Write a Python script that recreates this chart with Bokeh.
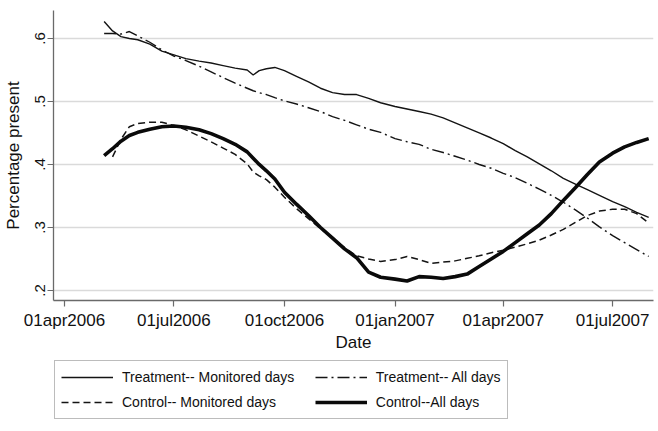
import numpy as np
import pandas as pd
from bokeh.plotting import figure
from bokeh.layouts import column
from bokeh.models import Range1d, FixedTicker, Legend, LegendItem, ColumnDataSource
from bokeh.embed import file_html
from bokeh.resources import INLINE

dates = ["2006-05-04", "2006-05-11", "2006-05-18", "2006-05-25", "2006-06-01", "2006-06-11",
         "2006-06-21", "2006-07-01", "2006-07-11", "2006-07-22", "2006-08-01", "2006-08-11",
         "2006-08-21", "2006-08-31", "2006-09-05", "2006-09-10", "2006-09-16", "2006-09-23",
         "2006-10-01", "2006-10-11", "2006-10-21", "2006-10-31", "2006-11-10", "2006-11-20",
         "2006-11-30", "2006-12-10", "2006-12-20", "2007-01-01", "2007-01-11", "2007-01-21",
         "2007-01-31", "2007-02-10", "2007-02-20", "2007-03-02", "2007-03-12", "2007-03-22",
         "2007-04-01", "2007-04-11", "2007-04-21", "2007-05-01", "2007-05-11", "2007-05-21",
         "2007-05-31", "2007-06-10", "2007-06-20", "2007-07-01", "2007-07-11", "2007-07-21",
         "2007-07-31"]

treatment_monitored = [0.627, 0.612, 0.603, 0.600, 0.598, 0.591, 0.580, 0.574, 0.568, 0.564,
                       0.561, 0.557, 0.553, 0.550, 0.542, 0.549, 0.552, 0.554, 0.549, 0.540,
                       0.531, 0.521, 0.514, 0.511, 0.511, 0.505, 0.498, 0.492, 0.488, 0.484,
                       0.480, 0.474, 0.466, 0.458, 0.450, 0.442, 0.433, 0.422, 0.412, 0.401,
                       0.390, 0.378, 0.369, 0.360, 0.351, 0.341, 0.333, 0.324, 0.316]

treatment_all = [0.608, 0.608, 0.607, 0.611, 0.604, 0.594, 0.582, 0.572, 0.565, 0.556,
                 0.547, 0.538, 0.529, 0.521, 0.517, 0.514, 0.511, 0.506, 0.501, 0.496,
                 0.490, 0.484, 0.476, 0.470, 0.463, 0.456, 0.451, 0.441, 0.436, 0.432,
                 0.424, 0.419, 0.413, 0.407, 0.400, 0.394, 0.386, 0.379, 0.370, 0.361,
                 0.351, 0.340, 0.328, 0.315, 0.301, 0.287, 0.276, 0.265, 0.254]

control_monitored = [np.nan, 0.412, 0.440, 0.460, 0.465, 0.467, 0.467, 0.462, 0.455, 0.445,
                     0.436, 0.426, 0.416, 0.401, 0.388, 0.382, 0.376, 0.364, 0.348, 0.330,
                     0.314, 0.298, 0.283, 0.268, 0.255, 0.250, 0.246, 0.249, 0.254, 0.249,
                     0.243, 0.245, 0.247, 0.251, 0.255, 0.260, 0.264, 0.269, 0.274, 0.280,
                     0.288, 0.297, 0.308, 0.319, 0.326, 0.329, 0.329, 0.322, 0.307]

control_all = [0.414, 0.425, 0.437, 0.446, 0.451, 0.456, 0.460, 0.461, 0.459, 0.455,
               0.449, 0.441, 0.432, 0.420, 0.410, 0.400, 0.390, 0.377, 0.356, 0.337,
               0.319, 0.300, 0.283, 0.266, 0.252, 0.229, 0.221, 0.218, 0.215, 0.222,
               0.221, 0.219, 0.222, 0.226, 0.238, 0.250, 0.262, 0.276, 0.290, 0.304,
               0.322, 0.343, 0.363, 0.384, 0.404, 0.418, 0.428, 0.435, 0.441]

series_labels = ["Treatment-- Monitored days", "Treatment-- All days",
                 "Control-- Monitored days", "Control--All days"]

x_tick_dates = ["2006-04-01", "2006-07-01", "2006-10-01", "2007-01-01", "2007-04-01", "2007-07-01"]
x_tick_labels = ["01apr2006", "01jul2006", "01oct2006", "01jan2007", "01apr2007", "01jul2007"]
y_ticks = [0.2, 0.3, 0.4, 0.5, 0.6]
y_tick_labels = [".2", ".3", ".4", ".5", ".6"]

FONT = "Liberation Sans"
TXT = "#111111"
AX = "#6a6a6a"

STYLES = [
    dict(line_color="#141414", line_width=1.4),
    dict(line_color="#141414", line_width=1.4, line_dash="12 4 2 4"),
    dict(line_color="#141414", line_width=1.5, line_dash="7 4"),
    dict(line_color="#0a0a0a", line_width=3.6),
]

src = ColumnDataSource(dict(
    x=pd.to_datetime(dates),
    tm=treatment_monitored, ta=treatment_all,
    cm=control_monitored, ca=control_all,
))

p = figure(width=658, height=356, x_axis_type="datetime",
           output_backend="svg", toolbar_location=None,
           x_range=Range1d(pd.Timestamp("2006-03-22 21:00"), pd.Timestamp("2007-08-04 00:00")),
           y_range=Range1d(0.1841, 0.6444),
           min_border_left=52, min_border_right=5, min_border_top=10, min_border_bottom=56)
p.outline_line_color = None
p.background_fill_color = "white"
p.border_fill_color = "white"
p.xgrid.grid_line_color = None
p.ygrid.grid_line_color = "#dadada"
p.ygrid.grid_line_width = 1.6

x_ms = [int(pd.Timestamp(d).value // 10**6) for d in x_tick_dates]
p.xaxis.ticker = FixedTicker(ticks=x_ms)
p.xaxis.major_label_overrides = {k: v for k, v in zip(x_ms, x_tick_labels)}
p.yaxis.ticker = FixedTicker(ticks=y_ticks)
p.yaxis.major_label_overrides = {k: v for k, v in zip(y_ticks, y_tick_labels)}
p.yaxis.major_label_orientation = "vertical"

for ax in (p.xaxis, p.yaxis):
    ax.axis_line_color = AX
    ax.axis_line_width = 1.3
    ax.major_tick_line_color = AX
    ax.major_tick_line_width = 1.2
    ax.major_tick_in = 0
    ax.major_tick_out = 6
    ax.minor_tick_line_color = None
    ax.major_label_text_font = FONT
    ax.major_label_text_color = TXT
    ax.axis_label_text_font = FONT
    ax.axis_label_text_color = TXT
    ax.axis_label_text_font_style = "normal"
    ax.axis_label_text_font_size = "17px"

p.xaxis.major_label_text_font_size = "17px"
p.yaxis.major_label_text_font_size = "15px"
p.xaxis.major_label_standoff = 4
p.yaxis.major_label_standoff = 2
p.xaxis.axis_label = "Date"
p.yaxis.axis_label = "Percentage present"
p.xaxis.axis_label_standoff = 0
p.yaxis.axis_label_standoff = 10

for col, st in zip(["tm", "ta", "cm", "ca"], STYLES):
    p.line("x", col, source=src, **st)

# legend panel below the chart (its sample lines lie outside the hidden ranges)
lg = figure(width=658, height=75, output_backend="svg", toolbar_location=None,
            x_range=Range1d(0, 1), y_range=Range1d(0, 1),
            min_border_left=0, min_border_right=0, min_border_top=0, min_border_bottom=0)
lg.axis.visible = False
lg.grid.visible = False
lg.outline_line_color = None
lg.border_fill_color = "white"
lg.background_fill_color = "white"

items = []
for i, (lab, st) in enumerate(zip(series_labels, STYLES)):
    r = lg.line(x=[5, 6], y=[5, 6], **st)
    text = lab + "\u00a0" * 4 if i == 0 else lab
    items.append(LegendItem(label=text, renderers=[r]))

legend = Legend(items=items, orientation="horizontal", ncols=2, location=(1, 12),
                border_line_color="#7a7a7a", border_line_width=1.2,
                label_text_font=FONT, label_text_font_size="14px", label_text_color=TXT,
                glyph_width=52, glyph_height=20, label_standoff=9, spacing=5, padding=6, margin=0)
lg.add_layout(legend, "center")

layout = column(p, lg, spacing=0)
open("out.html", "w").write(file_html(layout, INLINE))
